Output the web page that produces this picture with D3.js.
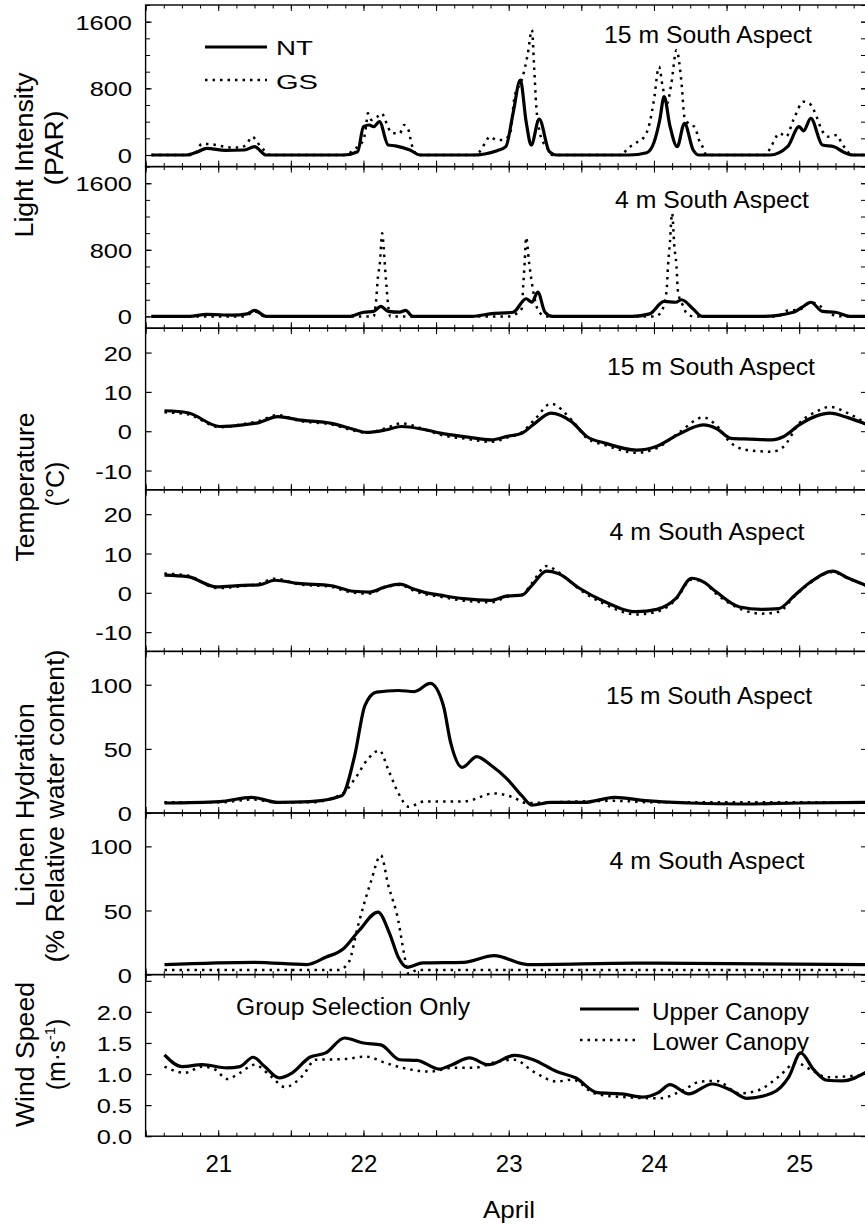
<!DOCTYPE html>
<html>
<head>
<meta charset="utf-8">
<script src="https://cdn.jsdelivr.net/npm/d3@7"></script>
<title>Light, temperature, hydration and wind</title>
<style>
  body { margin: 0; background: #fff; }
  text { font-family: "Liberation Sans", Arial, Helvetica, sans-serif; fill: #000; }
</style>
</head>
<body>
<div id="chart"></div>
<script>
// ---- data (day of April, value) ----
// light intensity, 15 m south aspect
var par15NTTime = [20.54, 20.78, 20.86, 20.92, 21.05, 21.18, 21.25, 21.33, 21.86, 21.96, 22.0, 22.04, 22.07, 22.11, 22.17, 22.22, 22.32, 22.39, 22.75, 22.92, 22.98, 23.03, 23.08, 23.12, 23.155, 23.21, 23.28, 23.33, 23.83, 23.95, 24.0, 24.04, 24.07, 24.11, 24.16, 24.21, 24.27, 24.31, 24.80, 24.92, 25.0, 25.03, 25.08, 25.16, 25.24, 25.30, 25.37, 25.46];
var par15NT     = [0, 0, 40, 80, 55, 60, 100, 0, 0, 40, 340, 360, 340, 400, 120, 110, 60, 0, 0, 52, 100, 500, 900, 400, 120, 430, 40, 0, 0, 28, 150, 420, 700, 350, 100, 380, 60, 0, 0, 100, 340, 290, 440, 120, 100, 40, 0, 0];
var par15GSTime = [20.54, 20.82, 20.85, 20.886, 20.94, 21.10, 21.15, 21.196, 21.234, 21.26, 21.29, 21.33, 21.356, 21.88, 21.93, 22.0, 22.02, 22.03, 22.056, 22.09, 22.125, 22.15, 22.17, 22.205, 22.25, 22.28, 22.31, 22.33, 22.354, 22.377, 22.77, 22.80, 22.836, 22.87, 22.916, 22.96, 23.01, 23.04, 23.09, 23.13, 23.16, 23.175, 23.19, 23.21, 23.23, 23.26, 23.30, 23.78, 23.81, 23.87, 23.925, 23.97, 24.0, 24.035, 24.06, 24.09, 24.12, 24.155, 24.19, 24.21, 24.25, 24.28, 24.31, 24.34, 24.36, 24.77, 24.80, 24.866, 24.91, 24.96, 25.03, 25.07, 25.12, 25.15, 25.20, 25.26, 25.29, 25.325, 25.36, 25.46];
var par15GS     = [0, 0, 40, 133, 130, 90, 90, 130, 220, 180, 100, 40, 0, 0, 60, 180, 380, 500, 420, 450, 500, 420, 330, 260, 260, 360, 300, 140, 30, 0, 0, 40, 140, 220, 180, 180, 260, 700, 900, 1200, 1500, 1060, 580, 300, 180, 100, 0, 0, 60, 140, 200, 380, 660, 1060, 820, 620, 860, 1260, 860, 460, 360, 340, 180, 80, 0, 0, 80, 260, 220, 420, 640, 620, 460, 320, 220, 240, 150, 60, 0, 0];
// light intensity, 4 m south aspect
var par4NTTime = [20.54, 20.8, 20.92, 21.1, 21.2, 21.25, 21.33, 21.9, 22.0, 22.07, 22.12, 22.17, 22.25, 22.29, 22.34, 22.75, 22.87, 23.03, 23.12, 23.16, 23.20, 23.25, 23.30, 23.85, 23.97, 24.07, 24.15, 24.19, 24.27, 24.33, 24.75, 24.96, 25.02, 25.08, 25.16, 25.25, 25.35, 25.46];
var par4NT     = [0, 0, 24, 15, 30, 72, 0, 0, 50, 60, 120, 60, 50, 72, 0, 0, 30, 50, 212, 170, 292, 50, 0, 0, 30, 180, 170, 200, 90, 0, 0, 50, 110, 170, 60, 50, 0, 0];
var par4GSTime = [20.54, 21.18, 21.25, 21.32, 22.07, 22.086, 22.10, 22.113, 22.129, 22.136, 22.148, 22.16, 22.17, 22.185, 23.0, 23.05, 23.09, 23.10, 23.11, 23.12, 23.14, 23.153, 23.17, 23.19, 23.21, 23.26, 24.0, 24.04, 24.086, 24.097, 24.11, 24.125, 24.14, 24.155, 24.166, 24.2, 24.22, 24.27, 24.85, 24.92, 25.0, 25.08, 25.14, 25.2, 25.3, 25.46];
var par4GS     = [0, 0, 60, 0, 0, 170, 480, 640, 1000, 900, 600, 330, 130, 0, 0, 30, 92, 372, 650, 950, 650, 480, 290, 130, 50, 0, 0, 30, 290, 610, 890, 1240, 850, 610, 290, 130, 50, 0, 0, 70, 80, 170, 130, 40, 0, 0];
// temperature
var temp15Time = [20.63, 20.79, 21.01, 21.17, 21.28, 21.41, 21.55, 21.78, 21.93, 22.02, 22.15, 22.26, 22.41, 22.53, 22.72, 22.88, 22.99, 23.09, 23.18, 23.29, 23.43, 23.54, 23.67, 23.88, 24.02, 24.17, 24.34, 24.43, 24.53, 24.66, 24.81, 24.89, 25.0, 25.12, 25.21, 25.34, 25.46];
var temp15NT   = [5.2, 4.7, 1.2, 1.6, 2.2, 3.7, 2.9, 2.0, 0.5, -0.3, 0.3, 1.2, 0.5, -0.5, -1.5, -2.2, -1.3, -0.5, 2.0, 4.6, 2.5, -1.4, -3.1, -4.8, -3.8, -0.8, 1.6, 0.7, -1.8, -2.0, -2.2, -1.4, 1.6, 3.9, 4.6, 3.4, 1.8];
var temp15GS   = [4.8, 4.3, 1.0, 1.8, 2.6, 4.1, 2.7, 1.7, 0.2, -0.4, 0.7, 2.0, 0.6, -0.9, -2.0, -2.7, -1.6, -0.3, 3.0, 7.0, 3.0, -1.8, -3.6, -5.5, -4.3, -0.4, 3.5, 1.5, -3.0, -4.9, -5.2, -4.0, 2.0, 5.0, 6.2, 4.5, 2.0];
var temp4Time  = [20.63, 20.79, 20.99, 21.17, 21.28, 21.39, 21.55, 21.78, 21.93, 22.04, 22.15, 22.25, 22.35, 22.42, 22.53, 22.69, 22.88, 22.99, 23.09, 23.16, 23.26, 23.34, 23.49, 23.64, 23.88, 24.02, 24.15, 24.26, 24.34, 24.43, 24.59, 24.74, 24.86, 24.97, 25.08, 25.23, 25.34, 25.46];
var temp4NT    = [4.5, 4.1, 1.5, 1.9, 2.0, 3.2, 2.4, 1.8, 0.4, 0.2, 1.5, 2.2, 0.9, 0.1, -0.6, -1.5, -1.9, -0.8, -0.6, 1.9, 5.5, 4.9, 1.1, -1.9, -4.8, -4.2, -1.5, 3.7, 2.8, 0.2, -3.6, -4.2, -4.0, -0.6, 2.8, 5.5, 3.7, 1.9];
var temp4GS    = [4.9, 4.4, 1.2, 1.7, 2.3, 3.6, 2.2, 1.5, 0.0, -0.2, 1.4, 2.0, 0.5, -0.3, -1.0, -2.0, -2.4, -1.0, -0.5, 2.5, 6.8, 5.3, 0.8, -2.5, -5.5, -4.8, -1.8, 3.4, 2.8, -0.3, -4.0, -5.3, -4.8, -0.8, 2.6, 5.3, 3.6, 1.8];
// lichen hydration
var hyd15NTTime = [20.63, 21.01, 21.23, 21.41, 21.63, 21.85, 21.94, 22.01, 22.09, 22.24, 22.35, 22.46, 22.55, 22.60, 22.68, 22.78, 22.88, 22.99, 23.09, 23.16, 23.29, 23.52, 23.73, 23.94, 24.24, 24.62, 25.0, 25.46];
var hyd15NT     = [7.8, 8.9, 12.2, 8.3, 8.9, 13.5, 45, 83.8, 94.2, 95.5, 94.7, 101, 83.8, 55, 35.6, 44, 37, 26.5, 13.5, 6.2, 8.3, 8.3, 12.2, 9.6, 7.8, 7.0, 7.8, 8.3];
var hyd15GSTime = [20.63, 21.01, 21.23, 21.41, 21.63, 21.85, 21.94, 22.03, 22.11, 22.17, 22.24, 22.31, 22.42, 22.69, 22.90, 23.03, 23.12, 23.29, 23.73, 24.0, 25.46];
var hyd15GS     = [8.3, 8.3, 10.5, 8.3, 8.3, 14.5, 26.5, 42, 48.7, 34, 15.6, 4.9, 9, 9, 15.3, 12.2, 7.8, 8.3, 9.5, 8.3, 8.3];
var hyd4NTTime  = [20.63, 21.25, 21.61, 21.74, 21.86, 21.97, 22.10, 22.18, 22.24, 22.30, 22.41, 22.69, 22.90, 23.13, 23.87, 25.46];
var hyd4NT      = [7.8, 9.6, 7.8, 13.5, 20, 34.4, 48.7, 32, 13.5, 5.7, 9.1, 9.6, 14.8, 7.8, 8.9, 7.8];
var hyd4GSTime  = [20.63, 21.83, 21.90, 21.96, 22.05, 22.12, 22.17, 22.24, 22.28, 22.31, 22.37, 25.34];
var hyd4GS      = [3.6, 3.6, 10, 37, 72, 93, 70, 42, 16, 0.5, 3.6, 3.6];
// wind speed, group selection
var windUpperTime = [20.63, 20.75, 20.89, 21.06, 21.15, 21.24, 21.32, 21.42, 21.51, 21.63, 21.74, 21.87, 22.0, 22.12, 22.25, 22.37, 22.52, 22.61, 22.73, 22.86, 23.04, 23.17, 23.33, 23.46, 23.61, 23.78, 23.92, 24.03, 24.11, 24.24, 24.40, 24.53, 24.64, 24.81, 24.93, 25.01, 25.10, 25.19, 25.30, 25.46];
var windUpper     = [1.31, 1.12, 1.15, 1.10, 1.12, 1.27, 1.12, 0.94, 1.02, 1.27, 1.34, 1.58, 1.50, 1.47, 1.23, 1.22, 1.08, 1.15, 1.26, 1.15, 1.30, 1.23, 1.04, 0.94, 0.70, 0.68, 0.63, 0.70, 0.83, 0.68, 0.84, 0.74, 0.61, 0.69, 0.96, 1.34, 1.07, 0.90, 0.89, 1.03];
var windLowerTime = [20.63, 20.77, 20.89, 20.98, 21.06, 21.15, 21.25, 21.36, 21.46, 21.58, 21.67, 21.86, 22.02, 22.15, 22.27, 22.46, 22.61, 22.76, 22.92, 23.04, 23.17, 23.33, 23.44, 23.59, 23.78, 24.04, 24.20, 24.32, 24.43, 24.59, 24.72, 24.86, 24.98, 25.08, 25.19, 25.46];
var windLower     = [1.12, 1.02, 1.12, 1.07, 0.92, 1.02, 1.15, 0.97, 0.79, 0.97, 1.23, 1.24, 1.28, 1.18, 1.10, 1.04, 1.10, 1.10, 1.20, 1.23, 1.04, 0.88, 0.91, 0.69, 0.63, 0.61, 0.74, 0.88, 0.89, 0.69, 0.74, 0.96, 1.18, 1.07, 0.95, 0.99];

var dayLabels = [21, 22, 23, 24, 25];

// ---- layout ----
var w = 865, h = 1226;
var left = 145.6, right = 866;
var fontFam = '"Liberation Sans", Arial, Helvetica, sans-serif';

var svg = d3.select("#chart").append("svg")
    .attr("width", w).attr("height", h);

var x = d3.scaleLinear().domain([20.5, 25.46]).range([left, right]);

var panels = [
  {top: 5,     bottom: 166.6,  domain: [-139, 1800], ticks: [0, 800, 1600], minor: d3.range(0, 1801, 200),
   title: "15 m South Aspect", tx: 708, ty: 43.3, tw: 208,
   series: [[par15NTTime, par15NT, false], [par15GSTime, par15GS, true]]},
  {top: 166.6, bottom: 328.2,  domain: [-142, 1800], ticks: [0, 800, 1600], minor: d3.range(0, 1801, 200),
   title: "4 m South Aspect", tx: 712, ty: 208, tw: 194,
   series: [[par4NTTime, par4NT, false], [par4GSTime, par4GS, true]]},
  {top: 328.2, bottom: 489.8,  domain: [-14.9, 26.2], ticks: [-10, 0, 10, 20], minor: [],
   title: "15 m South Aspect", tx: 711, ty: 375, tw: 208,
   series: [[temp15Time, temp15NT, false], [temp15Time, temp15GS, true]]},
  {top: 489.8, bottom: 651.4,  domain: [-14.9, 26.2], ticks: [-10, 0, 10, 20], minor: [],
   title: "4 m South Aspect", tx: 707, ty: 540, tw: 195,
   series: [[temp4Time, temp4NT, false], [temp4Time, temp4GS, true]]},
  {top: 651.4, bottom: 813,    domain: [0, 126], ticks: [0, 50, 100], minor: [],
   title: "15 m South Aspect", tx: 709, ty: 704, tw: 206,
   series: [[hyd15NTTime, hyd15NT, false], [hyd15GSTime, hyd15GS, true]]},
  {top: 813,   bottom: 974.6,  domain: [0, 126], ticks: [0, 50, 100], minor: [],
   title: "4 m South Aspect", tx: 707, ty: 869, tw: 195,
   series: [[hyd4NTTime, hyd4NT, false], [hyd4GSTime, hyd4GS, true]]},
  {top: 974.6, bottom: 1136.2, domain: [0, 2.6], ticks: [0, 0.5, 1, 1.5, 2, 2.5], minor: [],
   fmt: function(d) { return d > 2.2 ? "" : d.toFixed(1); },
   title: "Group Selection Only", tx: 353, ty: 1015, tw: 234,
   series: [[windUpperTime, windUpper, false], [windLowerTime, windLower, true]]}
];

var minorX = d3.range(20.5, 25.47, 0.125);
var majorX = d3.range(20.5, 25.47, 0.5);

function styleLine(sel, dotted) {
  sel.attr("fill", "none").attr("stroke", "#000");
  if (dotted) {
    sel.attr("stroke-width", 2.5).attr("stroke-dasharray", "2.5,5");
  } else {
    sel.attr("stroke-width", 3.2).attr("stroke-linejoin", "round");
  }
}

panels.forEach(function(p, pi) {
  var y = d3.scaleLinear().domain(p.domain).range([p.bottom, p.top]);
  var g = svg.append("g");

  // curves
  var line = d3.line()
      .x(function(d) { return x(d[0]); })
      .y(function(d) { return y(d[1]); })
      .curve(d3.curveMonotoneX);
  p.series.forEach(function(s) {
    g.append("path").datum(d3.zip(s[0], s[1])).attr("d", line).call(styleLine, s[2]);
  });

  // frame
  g.append("rect")
      .attr("x", left).attr("y", p.top)
      .attr("width", right - left).attr("height", p.bottom - p.top)
      .attr("fill", "none").attr("stroke", "#000").attr("stroke-width", 1.4);

  // x ticks on top and bottom edges, pointing in
  [[minorX, 3.5], [majorX, 6]].forEach(function(t) {
    var top = g.append("g").attr("transform", "translate(0," + p.top + ")")
        .call(d3.axisBottom(x).tickValues(t[0]).tickSize(t[1]).tickFormat(""));
    var bot = g.append("g").attr("transform", "translate(0," + p.bottom + ")")
        .call(d3.axisTop(x).tickValues(t[0]).tickSize(t[1]).tickFormat(""));
    top.select(".domain").remove();
    bot.select(".domain").remove();
  });

  // y axis, left, labelled
  var fmt = p.fmt || function(d) { return String(d); };
  var ya = g.append("g").attr("transform", "translate(" + left + ",0)")
      .call(d3.axisLeft(y).tickValues(p.ticks).tickSize(-6).tickFormat(fmt));
  ya.select(".domain").remove();
  ya.selectAll("line").attr("stroke-width", 1.2);
  ya.selectAll("text")
      .attr("font-size", 20).attr("font-family", fontFam)
      .attr("x", -13.6 / 1.27).attr("dy", "0.38em")
      .attr("transform", "scale(1.27,1)");

  if (p.minor.length) {
    var ym = g.append("g").attr("transform", "translate(" + left + ",0)")
        .call(d3.axisLeft(y).tickValues(p.minor).tickSize(-4.5).tickFormat(""));
    ym.select(".domain").remove();
  }

  // y ticks, right edge
  var yr = g.append("g").attr("transform", "translate(" + right + ",0)")
      .call(d3.axisRight(y).tickValues(p.ticks.concat(p.minor)).tickSize(-5).tickFormat(""));
  yr.select(".domain").remove();

  // panel title
  g.append("text")
      .attr("x", p.tx).attr("y", p.ty)
      .attr("text-anchor", "middle")
      .attr("font-size", 23)
      .attr("textLength", p.tw).attr("lengthAdjust", "spacingAndGlyphs")
      .text(p.title);
});

// x tick labels under bottom panel
var xa = svg.append("g").attr("transform", "translate(0,1136.2)")
    .call(d3.axisBottom(x).tickValues(dayLabels).tickSize(0).tickPadding(19).tickFormat(d3.format("d")));
xa.select(".domain").remove();
xa.selectAll("text").attr("font-size", 24).attr("font-family", fontFam);

svg.append("text")
    .attr("x", 509).attr("y", 1218)
    .attr("text-anchor", "middle").attr("font-size", 24)
    .attr("textLength", 52).attr("lengthAdjust", "spacingAndGlyphs")
    .text("April");

// rotated y titles
var yTitles = [
  {text: "Light Intensity", x: 33, y: 155, len: 165},
  {text: "(PAR)", x: 63, y: 148, len: 75},
  {text: "Temperature", x: 34, y: 487, len: 149},
  {text: "(°C)", x: 64, y: 484, len: 45},
  {text: "Lichen Hydration", x: 34, y: 805, len: 204},
  {text: "(% Relative water content)", x: 64, y: 806, len: 313},
  {text: "Wind Speed", x: 34, y: 1054.5, len: 145}
];
yTitles.forEach(function(t) {
  svg.append("text")
      .attr("transform", "translate(" + t.x + "," + t.y + ") rotate(-90)")
      .attr("text-anchor", "middle").attr("font-size", 25)
      .attr("textLength", t.len).attr("lengthAdjust", "spacingAndGlyphs")
      .text(t.text);
});
var unit = svg.append("text")
    .attr("transform", "translate(65,1054.5) rotate(-90)")
    .attr("text-anchor", "middle").attr("font-size", 25);
unit.append("tspan").text("(m·s");
unit.append("tspan").attr("font-size", 15).attr("dy", -10).text("-1");
unit.append("tspan").attr("dy", 10).text(")");

// legends
var legends = [
  {label: "NT", x1: 205, x2: 267, ly: 47, tx: 276, ty: 55, size: 21, len: 37, dotted: false},
  {label: "GS", x1: 205, x2: 267, ly: 80, tx: 276, ty: 89, size: 21, len: 42, dotted: true},
  {label: "Upper Canopy", x1: 580, x2: 639, ly: 1009, tx: 652, ty: 1020, size: 23, len: 157, dotted: false},
  {label: "Lower Canopy", x1: 580, x2: 635, ly: 1040, tx: 652, ty: 1050, size: 23, len: 157, dotted: true}
];
legends.forEach(function(l) {
  svg.append("line")
      .attr("x1", l.x1).attr("x2", l.x2).attr("y1", l.ly).attr("y2", l.ly)
      .call(styleLine, l.dotted);
  svg.append("text")
      .attr("x", l.tx).attr("y", l.ty).attr("font-size", l.size)
      .attr("textLength", l.len).attr("lengthAdjust", "spacingAndGlyphs")
      .text(l.label);
});
</script>
</body>
</html>
